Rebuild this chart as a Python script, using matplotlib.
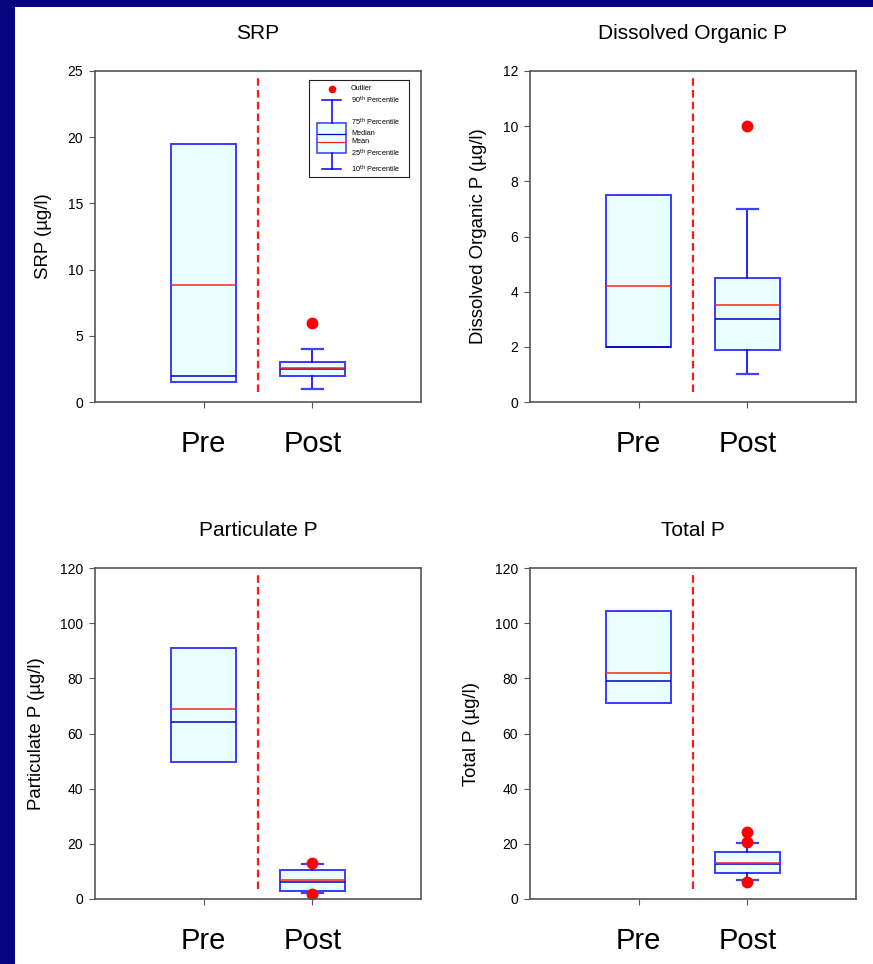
import numpy as np
import matplotlib.pyplot as plt
from matplotlib.patches import Rectangle

plt.rcParams['font.family'] = ['Liberation Sans', 'DejaVu Sans']

titles = ['SRP', 'Dissolved Organic P', 'Particulate P', 'Total P']
ylabels = ['SRP (µg/l)', 'Dissolved Organic P (µg/l)',
           'Particulate P (µg/l)', 'Total P (µg/l)']
groups = ['Pre', 'Post']
y_max = [25, 12, 120, 120]
y_step = [5, 2, 20, 20]

# one [Pre, Post] pair per panel
q1 = [[1.5, 2.0], [2.0, 1.9], [49.5, 2.9], [71, 9.5]]
q3 = [[19.5, 3.0], [7.5, 4.5], [91, 10.5], [104.5, 16.9]]
median = [[2.0, 2.5], [2.0, 3.0], [64, 6.0], [79, 12.7]]
mean = [[8.8, 2.6], [4.2, 3.5], [69, 6.8], [82, 13.0]]
p10 = [[None, 1.0], [None, 1.0], [None, 2.2], [None, 7.0]]
p90 = [[None, 4.0], [None, 7.0], [None, 12.8], [None, 20.2]]
outliers = [[[], [6.0]], [[], [10.0]], [[], [13.2, 1.8]], [[], [24.2, 20.8, 6.0]]]

# legend key (drawn in pixel units of the little key box)
key_labels = ['Outlier', '90$^{\\rm th}$ Percentile', '75$^{\\rm th}$ Percentile',
              'Median', 'Mean', '25$^{\\rm th}$ Percentile', '10$^{\\rm th}$ Percentile']
key_y = [9, 20, 42.7, 53.7, 61.7, 73, 89]

W, H = 873, 964
fig = plt.figure(figsize=(W / 100, H / 100), dpi=100)
fig.patch.set_facecolor('#05057f')
fig.patches.append(Rectangle((15 / W, 0), 1, (H - 7) / H, transform=fig.transFigure,
                             facecolor='white', edgecolor='none', zorder=-5))

box_face = '#eaffff'
box_edge = '#3a3aff'
spine_col = '#555555'

lefts = [95, 530, 95, 530]
tops = [71, 71, 568, 568]

for i in range(4):
    ax = fig.add_axes([lefts[i] / W, (H - tops[i] - 331) / H, 326 / W, 331 / H])
    stats = []
    for j in range(2):
        lo = p10[i][j] if p10[i][j] is not None else q1[i][j]
        hi = p90[i][j] if p90[i][j] is not None else q3[i][j]
        stats.append(dict(med=median[i][j], q1=q1[i][j], q3=q3[i][j],
                          whislo=lo, whishi=hi, mean=mean[i][j],
                          fliers=np.array(outliers[i][j])))
    art = ax.bxp(stats, positions=[1, 2], widths=0.6, showmeans=True, meanline=True,
                 patch_artist=True, capwidths=0.19,
                 boxprops=dict(facecolor=box_face, edgecolor=box_edge, linewidth=1.4),
                 medianprops=dict(color='#0000c0', linewidth=1.1),
                 meanprops=dict(color='#ff2020', linestyle='-', linewidth=1.1),
                 whiskerprops=dict(color='#0000ff', linewidth=1.2),
                 capprops=dict(color='#4040ff', linewidth=1.6),
                 flierprops=dict(marker='o', markerfacecolor='red', markeredgecolor='red',
                                 markersize=7.5))
    for j in range(2):
        if p10[i][j] is None:
            art['caps'][2 * j].set_visible(False)
            art['caps'][2 * j + 1].set_visible(False)
    ax.axvline(1.5, ymin=0.03, ymax=0.985, color='#ff1a1a', linewidth=1.6,
               dashes=(3.4, 1.9))

    ax.set_xlim(0, 3)
    ax.set_ylim(0, y_max[i])
    ax.set_yticks(np.arange(0, y_max[i] + 0.1, y_step[i]))
    ax.set_xticks([1, 2])
    ax.set_xticklabels(groups)
    ax.tick_params(axis='x', labelsize=21, length=4, pad=16, color=spine_col)
    ax.tick_params(axis='y', labelsize=10, length=4.5, pad=4, color=spine_col)
    for s in ax.spines.values():
        s.set_color(spine_col)
        s.set_linewidth(1.2)
    ax.set_title(titles[i], fontsize=15, pad=23)
    ax.set_ylabel(ylabels[i], fontsize=13.4, labelpad=11)

# key box in the SRP panel
kx = fig.add_axes([309 / W, (H - 177) / H, 100 / W, 97 / H])
kx.set_xlim(0, 100)
kx.set_ylim(97, 0)
kx.set_xticks([])
kx.set_yticks([])
for s in kx.spines.values():
    s.set_linewidth(0.8)
    s.set_color('#222222')
key_stats = [dict(med=key_y[3], mean=key_y[4], q1=key_y[5], q3=key_y[2],
                  whislo=key_y[6], whishi=key_y[1], fliers=np.array([key_y[0]]))]
kx.bxp(key_stats, positions=[22.5], widths=29, showmeans=True, meanline=True,
       patch_artist=True, capwidths=19,
       boxprops=dict(facecolor=box_face, edgecolor=box_edge, linewidth=1.1),
       medianprops=dict(color='#0000c0', linewidth=0.9),
       meanprops=dict(color='#ff2020', linestyle='-', linewidth=0.9),
       whiskerprops=dict(color='#0000ff', linewidth=1.1),
       capprops=dict(color='#0000ff', linewidth=1.1),
       flierprops=dict(marker='o', markerfacecolor='red', markeredgecolor='red',
                       markersize=4.5))
kx.set_xlim(0, 100)
kx.set_xticks([])
for lab, yy in zip(key_labels, key_y):
    kx.text(42, yy, lab, fontsize=5.2, va='center', ha='left')

fig.savefig('out.png', dpi=100)
